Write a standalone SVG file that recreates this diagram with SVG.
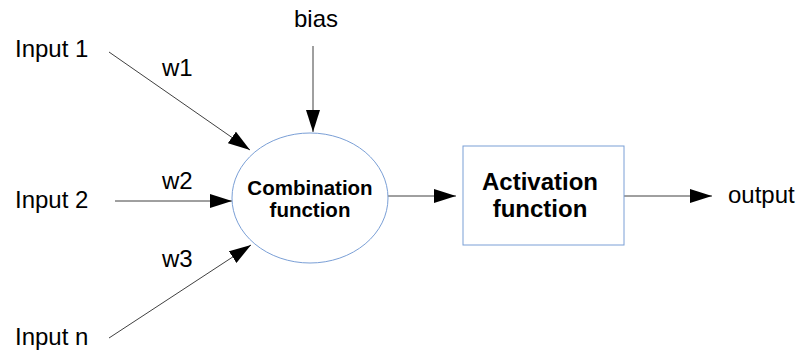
<svg xmlns="http://www.w3.org/2000/svg" width="798" height="352" viewBox="0 0 798 352">
<style>
.lbl{font-family:"Liberation Sans",Arial,sans-serif;font-size:24px;fill:#000}
.bold{font-family:"Liberation Sans",Arial,sans-serif;font-weight:bold;fill:#000;text-anchor:middle}
.edge{stroke:#404040;stroke-width:1;fill:none;marker-end:url(#ah)}
.shape{fill:#fff;stroke:#7a9fd6;stroke-width:1}
</style>
<defs>
<marker id="ah" markerUnits="userSpaceOnUse" markerWidth="22" markerHeight="14" refX="22" refY="7" orient="auto">
<path d="M0,0 L22,7 L0,14 Z" fill="#000"/>
</marker>
</defs>
<rect width="798" height="352" fill="#fff"/>
<g id="connectors">
<line class="edge" x1="109" y1="52" x2="250" y2="150"/>
<line class="edge" x1="313" y1="46" x2="313" y2="132"/>
<line class="edge" x1="115" y1="201" x2="232" y2="201"/>
<line class="edge" x1="109" y1="338" x2="251" y2="245"/>
<line class="edge" x1="388" y1="196" x2="456" y2="196"/>
<line class="edge" x1="624" y1="196" x2="712" y2="196"/>
</g>
<g id="input1"><text class="lbl" x="15" y="57">Input 1</text></g>
<g id="input2"><text class="lbl" x="15" y="208">Input 2</text></g>
<g id="inputn"><text class="lbl" x="15" y="345">Input n</text></g>
<g id="bias"><text class="lbl" x="294" y="27">bias</text></g>
<g id="w1"><text class="lbl" x="162" y="76">w1</text></g>
<g id="w2"><text class="lbl" x="162" y="189">w2</text></g>
<g id="w3"><text class="lbl" x="162" y="267">w3</text></g>
<g id="combination">
<ellipse class="shape" cx="310" cy="198" rx="78" ry="65"/>
<text class="bold" x="310" y="195" font-size="20.5">Combination</text>
<text class="bold" x="310" y="217" font-size="20.5">function</text>
</g>
<g id="activation">
<rect class="shape" x="463" y="146" width="161" height="99"/>
<text class="bold" x="540" y="190" font-size="24">Activation</text>
<text class="bold" x="540" y="217" font-size="24">function</text>
</g>
<g id="output"><text class="lbl" x="728" y="203">output</text></g>
</svg>
